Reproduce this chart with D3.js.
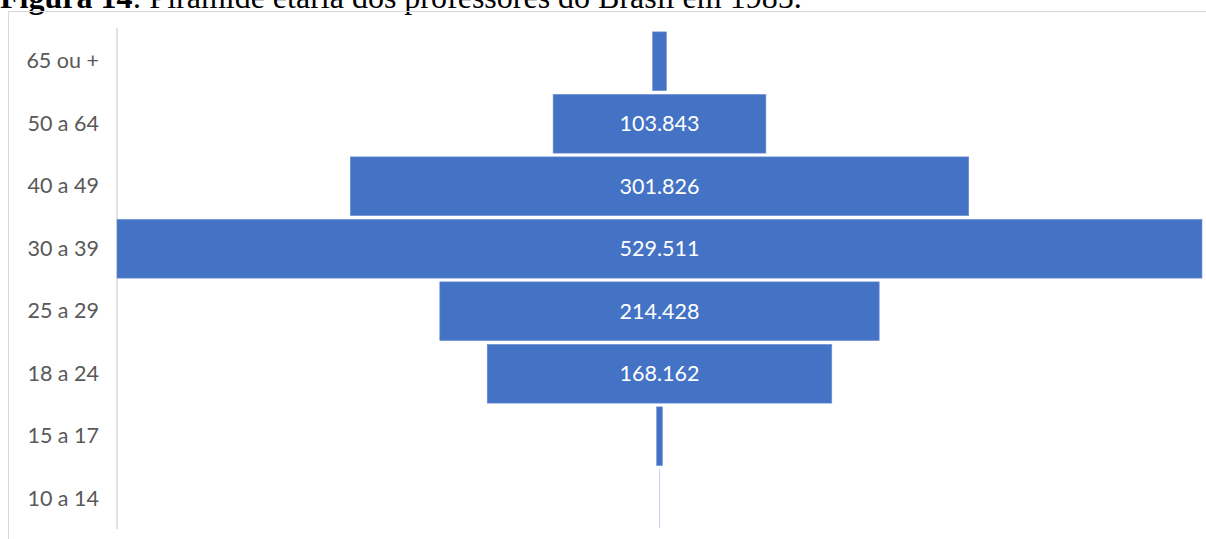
<!DOCTYPE html>
<html>
<head>
<meta charset="utf-8">
<script src="https://cdn.jsdelivr.net/npm/d3@7"></script>
<style>
  html, body { margin: 0; padding: 0; background: #fff; overflow: hidden; }
  svg { display: block; }
</style>
</head>
<body>
<svg id="chart" width="1206" height="539"></svg>
<script>
// Age groups, top to bottom
const categories = ["65 ou +", "50 a 64", "40 a 49", "30 a 39", "25 a 29", "18 a 24", "15 a 17", "10 a 14"];
// Number of teachers per age group
const values = [6800, 103843, 301826, 529511, 214428, 168162, 2800, 300];
// Values shown as labels inside the bars (null = no label)
const valueLabels = [null, "103.843", "301.826", "529.511", "214.428", "168.162", null, null];

const svg = d3.select("#chart");

// Caption above the chart frame
const title = svg.append("text")
  .attr("x", 0).attr("y", 8)
  .attr("font-family", "'Liberation Serif', 'Times New Roman', serif")
  .attr("font-size", 32)
  .attr("fill", "#000");
title.append("tspan").attr("font-weight", "bold").text("Figura 14");
title.append("tspan").text(": Pirâmide etária dos professores do Brasil em 1985.");

// Chart frame
svg.append("rect")
  .attr("x", 8.5).attr("y", 11.5)
  .attr("width", 1400).attr("height", 700)
  .attr("fill", "none")
  .attr("stroke", "#d9d9d9");

const plotLeft = 117, plotRight = 1202;
const center = (plotLeft + plotRight) / 2;
const halfW = (plotRight - plotLeft) / 2;

const y = d3.scaleBand().domain(categories).range([30, 530]).paddingInner(0.06).paddingOuter(0.03);
// Half-width scale: bars extend symmetrically from the centre line
const w = d3.scaleLinear().domain([0, d3.max(values)]).range([0, halfW]);

// Vertical axis line
svg.append("line")
  .attr("x1", plotLeft).attr("x2", plotLeft)
  .attr("y1", 28).attr("y2", 529)
  .attr("stroke", "#d9d9d9").attr("stroke-width", 1.5);

// Category axis labels
const axis = d3.axisLeft(y).tickSize(0).tickPadding(0);
const gAxis = svg.append("g").attr("transform", `translate(${plotLeft - 18},0)`).call(axis);
gAxis.select(".domain").remove();
gAxis.selectAll("text")
  .attr("font-family", "Lato, 'Open Sans', sans-serif")
  .attr("font-size", 21.5)
  .attr("fill", "#595959");

// Bars
svg.append("g").selectAll("rect")
  .data(values)
  .join("rect")
  .attr("x", d => center - w(d))
  .attr("y", (d, i) => y(categories[i]))
  .attr("width", d => Math.max(2 * w(d), 0.8))
  .attr("height", y.bandwidth())
  .attr("fill", (d, i) => i === 7 ? "#b7c6e0" : "#4472c4")
  .attr("stroke", "#6f93d2")
  .attr("stroke-width", (d, i) => i === 7 ? 0 : 0.6);

// Value labels
svg.append("g").selectAll("text")
  .data(valueLabels)
  .join("text")
  .filter(d => d !== null)
  .attr("x", center)
  .attr("y", d => y(categories[valueLabels.indexOf(d)]) + y.bandwidth() / 2)
  .attr("dy", "0.35em")
  .attr("text-anchor", "middle")
  .attr("font-family", "Lato, 'Open Sans', sans-serif")
  .attr("font-size", 21.5)
  .attr("fill", "#fff")
  .text(d => d);
</script>
</body>
</html>
